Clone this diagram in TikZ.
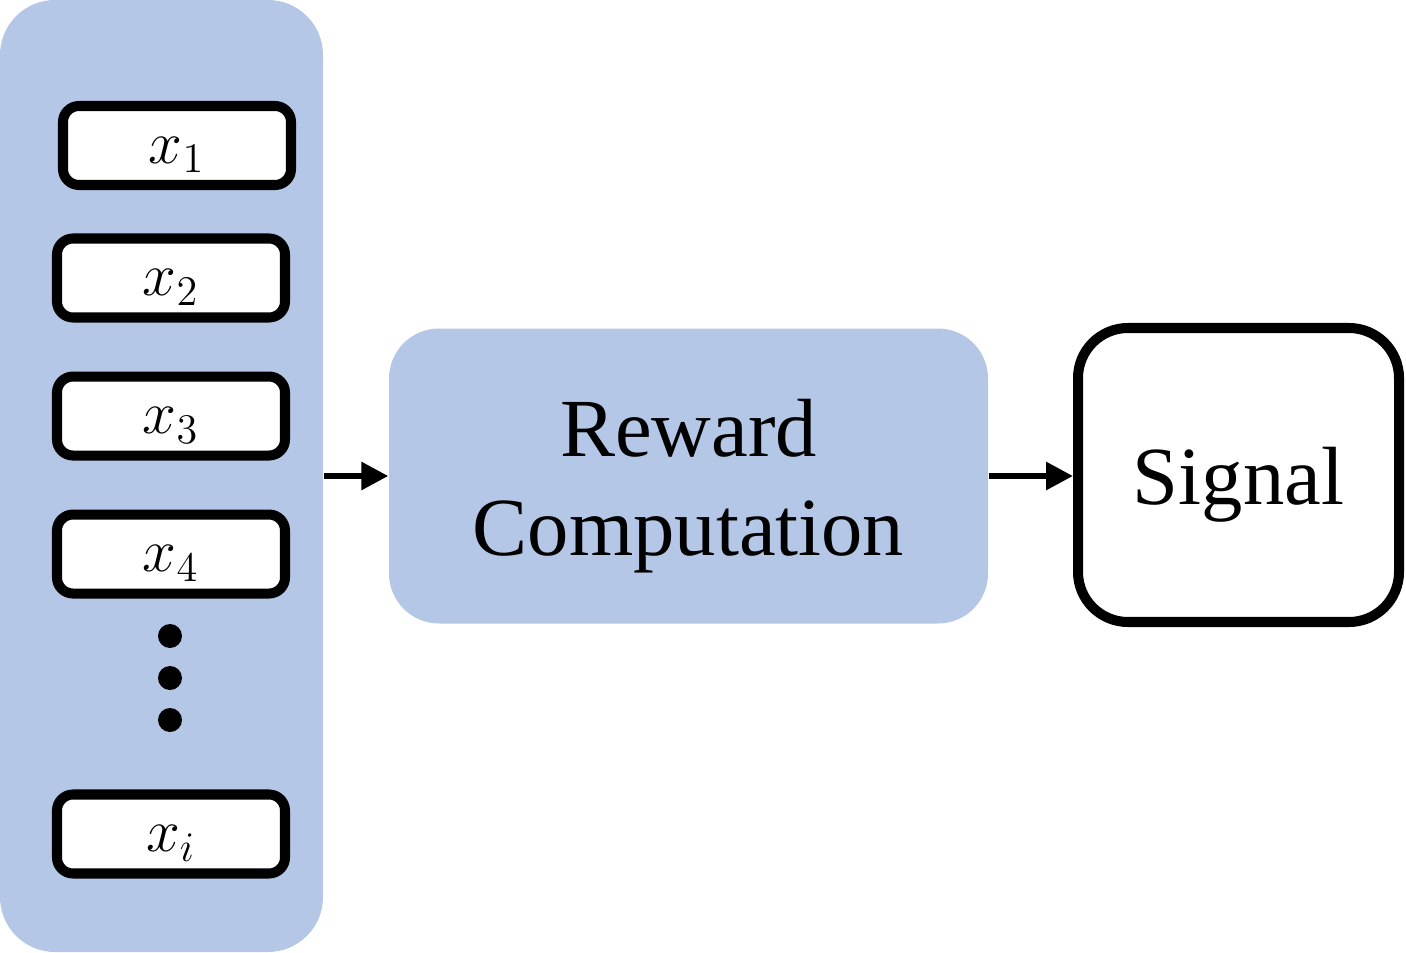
\documentclass[tikz,border=0pt]{standalone}
\usepackage{fontspec}
\setmainfont{Liberation Serif}
\usepackage{tikz}
\usetikzlibrary{arrows.meta,positioning}
\definecolor{panelblue}{HTML}{B4C7E7}

\begin{document}
\begin{tikzpicture}[>={Triangle[length=0.27cm,width=0.27cm]}]
  \tikzstyle{panel}=[fill=panelblue,rounded corners=0.55cm,inner sep=0pt]
  \tikzstyle{item}=[draw,line width=2.85pt,rounded corners=0.16cm,fill=white,minimum width=2.28cm,minimum height=0.79cm,inner sep=0pt,text height=0.45cm,font=\fontsize{18}{21}\selectfont]
  \tikzstyle{dot}=[circle,fill=black,minimum size=0.24cm,inner sep=0pt]
  \tikzstyle{big}=[align=center,font=\fontsize{23.5}{28}\selectfont,yshift=-0.1cm]
  \useasboundingbox (0,0) rectangle (14.06,9.52);
  \node[panel,minimum width=3.23cm,minimum height=9.52cm] (inputs) at (1.615,4.76) {};
  \node[item] (x1) at (1.77,8.065) {$x_1$};
  \node[item] (x2) at (1.71,6.74) {$x_2$};
  \node[item,below=0.49cm of x2] (x3) {$x_3$};
  \node[item,below=0.49cm of x3] (x4) {$x_4$};
  \node[dot] (d1) at (1.70,3.16) {};
  \node[dot] (d2) at (1.70,2.74) {};
  \node[dot] (d3) at (1.70,2.32) {};
  \node[item] (xi) at (1.71,1.18) {$x_i$};
  \node[panel,rounded corners=0.5cm,minimum width=5.99cm,minimum height=2.95cm,label={[big]center:Reward\\Computation}] (rew) at (6.885,4.76) {};
  \node[draw,line width=2.85pt,rounded corners=0.5cm,fill=white,minimum width=3.21cm,minimum height=2.94cm,inner sep=0pt,label={[big]center:Signal}] (sig) at (12.385,4.77) {};
  \draw[->,line width=1.7pt] (inputs.east) -- (rew.west);
  \draw[->,line width=1.7pt] (rew.east) -- (rew.east -| sig.west);
\end{tikzpicture}
\end{document}
